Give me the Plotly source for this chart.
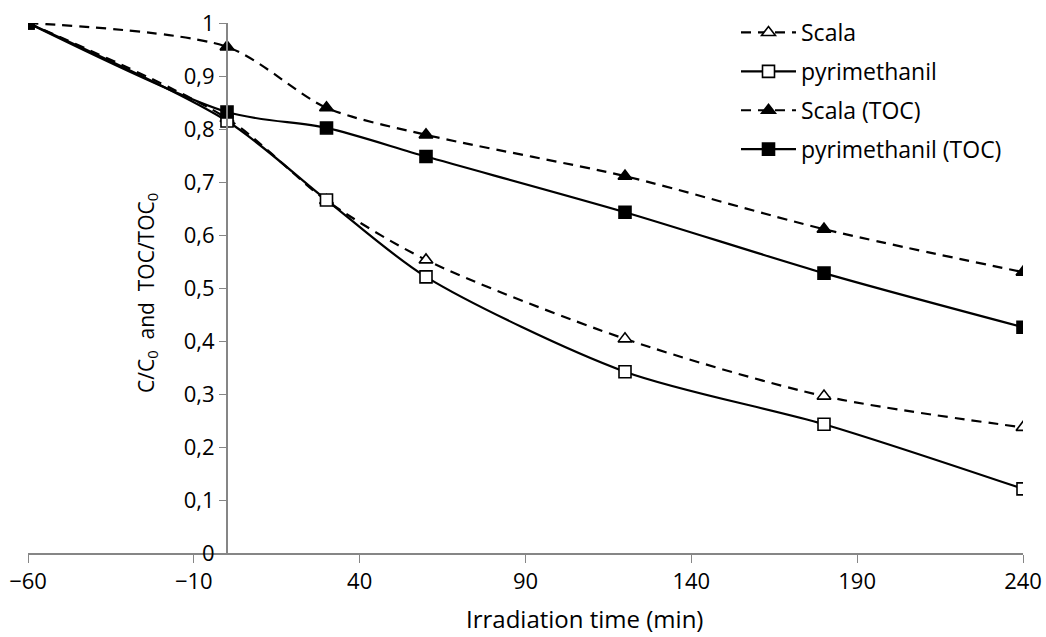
import plotly.graph_objects as go

time_min = [-60, 0, 30, 60, 120, 180, 240]
scala = [1.0, 0.82, 0.665, 0.553, 0.404, 0.296, 0.237]
pyrimethanil = [1.0, 0.815, 0.666, 0.521, 0.342, 0.243, 0.121]
scala_toc = [1.0, 0.955, 0.840, 0.789, 0.711, 0.611, 0.530]
pyrimethanil_toc = [1.0, 0.832, 0.802, 0.748, 0.643, 0.528, 0.426]

x_ticks = [-60, -10, 40, 90, 140, 190, 240]

FONT = "Open Sans"
fig = go.Figure()

series = [
    ("Scala", scala, "10px,7px", "triangle-up", "white", 12),
    ("pyrimethanil", pyrimethanil, "solid", "square", "white", 12),
    ("Scala (TOC)", scala_toc, "10px,7px", "triangle-up", "black", 12),
    ("pyrimethanil (TOC)", pyrimethanil_toc, "solid", "square", "black", 12),
]
for i, (name, ys, dash, sym, fill, size) in enumerate(series):
    fig.add_trace(go.Scatter(
        x=time_min, y=ys, name=name, mode="lines+markers",
        line=dict(color="black", width=2.2, dash=dash, shape="spline", smoothing=0.8),
        marker=dict(symbol=sym, size=size, color=fill, line=dict(color="black", width=1.6)),
        legendgroup=f"g{i}",
    ))

L, R, T, B = 28, 1023, 23, 553
W, H = 1046, 637
pw, ph = R - L, B - T

fig.update_layout(
    width=W, height=H,
    margin=dict(l=L, r=W - R, t=T, b=H - B, autoexpand=False),
    paper_bgcolor="white", plot_bgcolor="white",
    separators=",.",
    font=dict(family=FONT, size=22, color="black"),
    showlegend=True,
    legend=dict(x=(736 - L) / pw, y=(B - 11) / ph, xanchor="left", yanchor="top",
                font=dict(family=FONT, size=23), tracegroupgap=6, itemwidth=55,
                bgcolor="rgba(0,0,0,0)", traceorder="grouped"),
    xaxis=dict(range=[-60, 240], tickmode="array", tickvals=x_ticks, automargin=False,
               showgrid=False, zeroline=False, showline=True, linecolor="#868686",
               linewidth=2, ticks="outside", ticklen=8, tickcolor="#868686",
               tickfont=dict(size=22), anchor="y"),
    yaxis=dict(range=[0, 1], dtick=0.1, tick0=0, anchor="free", position=0.2, automargin=False,
               showgrid=False, zeroline=False, showline=True, linecolor="#868686",
               linewidth=2, ticks="outside", ticklen=7, tickcolor="#868686",
               tickfont=dict(size=22)),
    annotations=[
        dict(text="C/C<sub>0</sub>  and  TOC/TOC<sub>0</sub>", xref="paper", yref="paper",
             x=(147 - L) / pw, y=(B - 293) / ph, textangle=-90, showarrow=False,
             font=dict(size=21), xanchor="center", yanchor="middle"),
        dict(text="Irradiation time (min)", xref="paper", yref="paper",
             x=(584 - L) / pw, y=-(618 - B) / ph, showarrow=False,
             font=dict(size=24), xanchor="center", yanchor="middle"),
    ],
)

fig.write_html("out.html", post_script="document.body.style.margin='0';",
               config={"displayModeBar": False})
